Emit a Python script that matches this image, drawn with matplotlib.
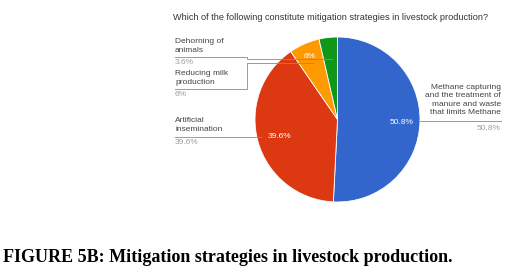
import matplotlib
matplotlib.use("Agg")
import matplotlib.pyplot as plt

# data
categories = ["Methane capturing\nand the treatment of\nmanure and waste\nthat limits Methane",
              "Artificial\ninsemination",
              "Reducing milk\nproduction",
              "Dehorning of\nanimals"]
shares = [50.8, 39.6, 6.0, 3.6]
pct_labels = ["50.8%", "39.6%", "6%", "3.6%"]
colors = ["#3366cc", "#dc3912", "#ff9900", "#109618"]

title = "Which of the following constitute mitigation strategies in livestock production?"
caption = "FIGURE 5B: Mitigation strategies in livestock production."

W, H = 525, 276
fig = plt.figure(figsize=(W / 100, H / 100), dpi=100)
ax = fig.add_axes([0, 0, 1, 1])

cx, cy, r = 337.5, H - 119.5, 82.5
wedges, _ = ax.pie(shares, colors=colors, startangle=90, counterclock=False,
                   center=(cx, cy), radius=r, frame=True,
                   wedgeprops=dict(edgecolor="white", linewidth=0.6))
ax.set_xlim(0, W)
ax.set_ylim(0, H)
ax.set_aspect("equal")
ax.axis("off")

font = "Liberation Sans"
txt = "#444444"
grey = "#9e9e9e"
line = "#8a8a8a"

def y(py):
    return H - py

ax.text(173, y(17), title, fontsize=6.6, color="#333333", family=font, va="center", ha="left")

# in-slice percentages
ax.text(402, y(122), pct_labels[0], fontsize=6, color="white", family=font, ha="center", va="center")
ax.text(279, y(137), pct_labels[1], fontsize=6, color="white", family=font, ha="center", va="center")
ax.text(310, y(56), pct_labels[2], fontsize=6, color="white", family=font, ha="center", va="center")

# right label (methane)
ax.text(501, y(100), categories[0], fontsize=6, color=txt, family=font, ha="right", va="center",
        linespacing=1.25)
ax.plot([420, 501], [y(121), y(121)], color=line, lw=0.6)
ax.text(501, y(128), pct_labels[0], fontsize=6, color=grey, family=font, ha="right", va="center")

# left labels
ax.text(175, y(125), categories[1], fontsize=6, color=txt, family=font, ha="left", va="center",
        linespacing=1.35)
ax.plot([175, 262], [y(137), y(137)], color=line, lw=0.6)
ax.text(175, y(143), pct_labels[1], fontsize=6, color=grey, family=font, ha="left", va="center")

ax.text(175, y(78), categories[2], fontsize=6, color=txt, family=font, ha="left", va="center",
        linespacing=1.35)
ax.plot([175, 247, 247, 313], [y(89), y(89), y(63), y(63)], color=line, lw=0.6)
ax.text(175, y(95), pct_labels[2], fontsize=6, color=grey, family=font, ha="left", va="center")

ax.text(175, y(46), categories[3], fontsize=6, color=txt, family=font, ha="left", va="center",
        linespacing=1.35)
ax.plot([175, 247, 247, 332], [y(57), y(57), y(59), y(59)], color=line, lw=0.6)
ax.text(175, y(62), pct_labels[3], fontsize=6, color=grey, family=font, ha="left", va="center")

ax.text(3, y(258), caption, fontsize=13, fontweight="bold", family="Liberation Serif",
        color="black", ha="left", va="center")

fig.savefig("out.png", dpi=100)
